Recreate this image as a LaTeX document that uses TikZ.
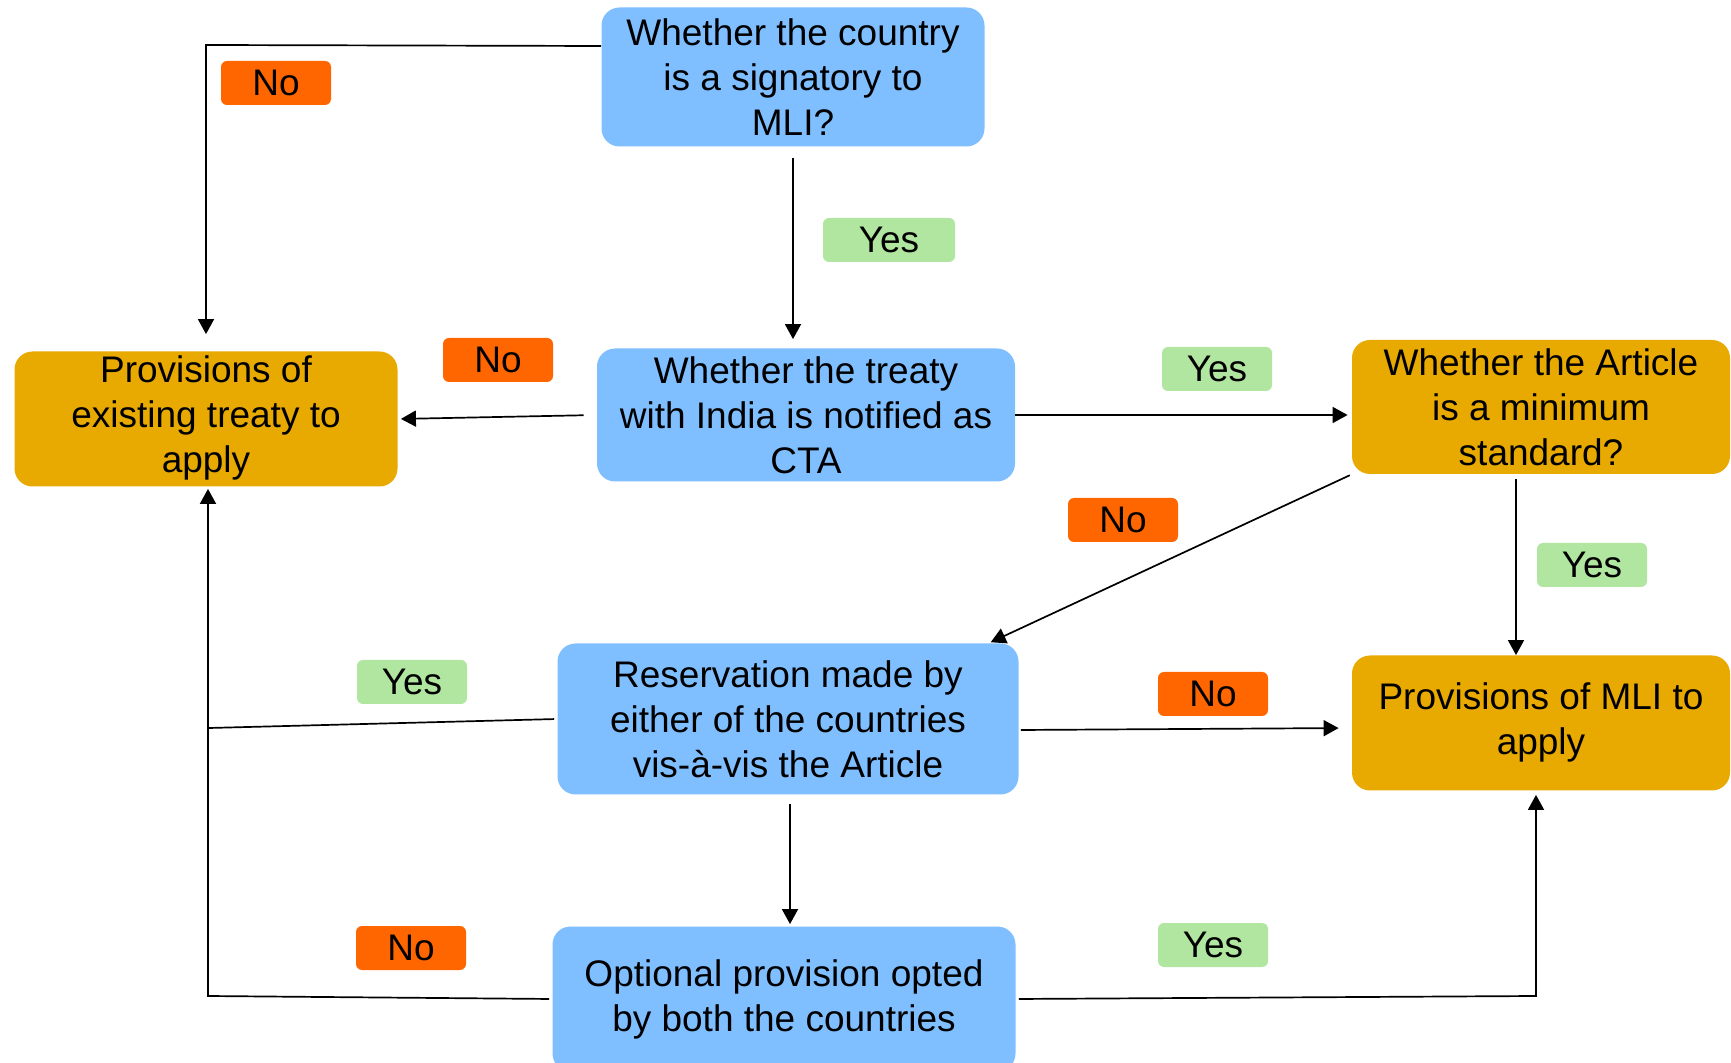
\documentclass[tikz,border=0pt]{standalone}
\usepackage{fontspec}
\setmainfont{Liberation Sans}
\usetikzlibrary{arrows.meta}
\definecolor{boxblue}{RGB}{128,191,255}
\definecolor{boxgold}{RGB}{232,170,0}
\definecolor{noorange}{RGB}{255,102,0}
\definecolor{yesgreen}{RGB}{176,230,160}
\begin{document}
\begin{tikzpicture}[x=0.5pt,y=-0.5pt,
 box/.style={rectangle, rounded corners=9pt, align=center, inner sep=0pt, font=\fontsize{18.5}{22.5}\selectfont},
 qbox/.style={box, fill=boxblue},
 abox/.style={box, fill=boxgold},
 lab/.style={rectangle, rounded corners=3pt, minimum width=55pt, minimum height=22pt, inner sep=0pt, font=\fontsize{18.5}{22.5}\selectfont},
 nolab/.style={lab, fill=noorange},
 yeslab/.style={lab, fill=yesgreen},
 conn/.style={draw=black, line width=0.85pt},
 arr/.style={conn, -{Triangle[length=7.5pt,width=8pt]}}
]
\useasboundingbox (0,0) rectangle (1731,1063);

% boxes
\node[qbox, minimum width=191.5pt, minimum height=69.5pt] (A) at (793,77) {Whether the country\\is a signatory to\\MLI?};
\node[abox, minimum width=191.5pt, minimum height=67pt] (P) at (206,419) {\raisebox{-2pt}{\begin{tabular}{@{}c@{}}Provisions of\\existing treaty to\\apply\end{tabular}}};
\node[qbox, minimum width=209pt, minimum height=66.5pt] (B) at (806,415) {Whether the treaty\\with India is notified as\\CTA};
\node[abox, minimum width=189pt, minimum height=67pt] (C) at (1541,407) {Whether the Article\\is a minimum\\standard?};
\node[qbox, minimum width=230.5pt, minimum height=75.5pt] (D) at (788,719) {Reservation made by\\either of the countries\\vis-à-vis the Article};
\node[abox, minimum width=189pt, minimum height=67.5pt] (E) at (1541,723) {\raisebox{-2pt}{\begin{tabular}{@{}c@{}}Provisions of MLI to\\apply\end{tabular}}};
\node[qbox, minimum width=231.5pt, minimum height=72.5pt] (F) at (784,999) {Optional provision opted\\by both the countries};

% labels
\node[nolab] (l1) at (276,83) {No};
\node[yeslab, minimum width=66pt] (l2) at (889,240) {Yes};
\node[nolab] (l3) at (498,360) {No};
\node[yeslab] (l4) at (1217,369) {Yes};
\node[nolab] (l5) at (1123,520) {No};
\node[yeslab] (l6) at (1592,565) {Yes};
\node[yeslab] (l7) at (412,682) {Yes};
\node[nolab] (l8) at (1213,694) {No};
\node[nolab] (l9) at (411,948) {No};
\node[yeslab] (l10) at (1213,945) {Yes};

% helper coordinates
\coordinate (tl) at (206,45);
\coordinate (lyes) at (209,728);
\coordinate (lno) at (208,996);
\coordinate (rno) at (1536,996);

% connectors
\draw[arr, shorten >=8.5pt] (A.west |- 0,46) -- (tl) -- (tl |- P.north);
\draw[arr, shorten <=5.5pt, shorten >=4.5pt] (A.south) -- (A.south |- B.north);
\draw[arr, shorten <=6.5pt, shorten >=1.5pt] (B.west) -- (P.east);
\draw[arr, shorten >=2pt] (B.east) -- (C.west |- B.east);
\draw[arr, shorten <=1pt, shorten >=1pt] (C.south west) -- ([xshift=-15pt]D.north east);
\draw[arr, shorten <=2.5pt] ([xshift=-12.5pt]C.south) -- ([xshift=-12.5pt]C.south |- E.north);
\draw[arr, shorten <=1pt, shorten >=6.5pt] (D.east |- 0,730) -- (E.west |- 0,728);
\draw[conn, shorten <=1.5pt] (D.west) -- (lyes);
\draw[arr, shorten <=4.5pt, shorten >=1pt] ([xshift=1pt]D.south) -- ([xshift=1pt]D.south |- F.north);
\draw[arr, shorten <=1.5pt, shorten >=1pt] (F.west) -- (lno) -- (lno |- P.south);
\draw[arr, shorten <=1.5pt, shorten >=2pt] (F.east) -- (rno) -- (rno |- E.south);
\end{tikzpicture}
\end{document}
